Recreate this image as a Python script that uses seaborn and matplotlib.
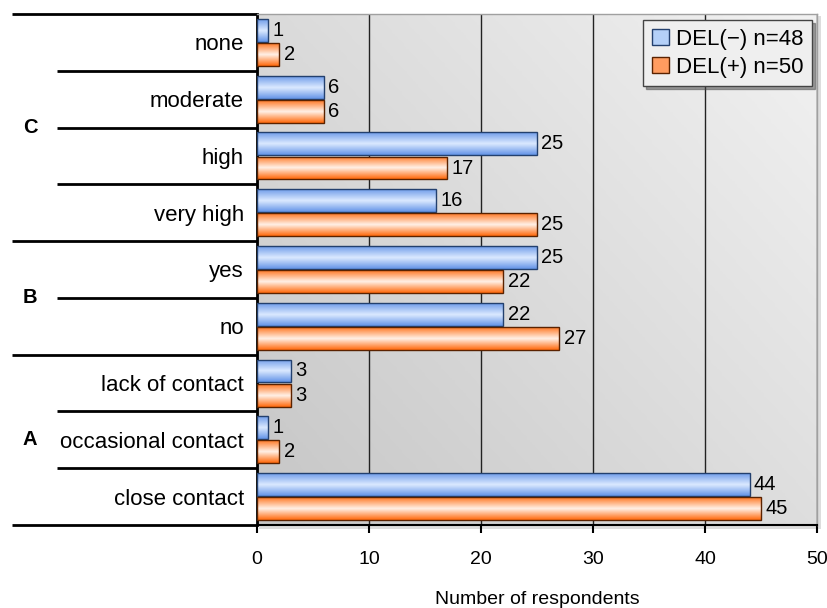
import numpy as np
import pandas as pd
import matplotlib
matplotlib.use("Agg")
import matplotlib.pyplot as plt
import seaborn as sns
from matplotlib.colors import LinearSegmentedColormap
from matplotlib.patches import Patch, Rectangle

# data (top to bottom)
categories = ["none", "moderate", "high", "very high", "yes", "no",
              "lack of contact", "occasional contact", "close contact"]
del_minus = [1, 6, 25, 16, 25, 22, 3, 1, 44]
del_plus = [2, 6, 17, 25, 22, 27, 3, 2, 45]
series_names = ["DEL(\u2212) n=48", "DEL(+) n=50"]
groups = ["C", "B", "A"]
group_sizes = [4, 2, 3]
x_ticks = [0, 10, 20, 30, 40, 50]

df = pd.DataFrame({
    "category": categories * 2,
    "value": del_minus + del_plus,
    "group": [series_names[0]] * len(categories) + [series_names[1]] * len(categories),
})

sns.set_theme(style="white")
plt.rcParams["font.family"] = ["Liberation Sans", "DejaVu Sans"]
plt.rcParams["text.color"] = "black"
plt.rcParams["axes.labelcolor"] = "black"
plt.rcParams["xtick.color"] = "black"
plt.rcParams["ytick.color"] = "black"

fig = plt.figure(figsize=(8.27, 6.08), dpi=100)
ax = fig.add_axes([257 / 827, 1 - 525 / 608, 560 / 827, 511 / 608])

sns.barplot(data=df, y="category", x="value", hue="group", order=categories,
            hue_order=series_names, orient="h", width=0.85, gap=0.05,
            palette=["#6f9fe8", "#ff6a10"], legend=False, ax=ax, zorder=3)

# background gradient (lighter towards top right)
gx, gy = np.meshgrid(np.linspace(0, 1, 200), np.linspace(0, 1, 200))
bg = 0.55 * gx + 0.45 * (1 - gy)
bg_cmap = LinearSegmentedColormap.from_list("bg", ["#c6c6c6", "#f2f2f2"])
ax.imshow(bg, cmap=bg_cmap, extent=(0, 1, 0, 1), transform=ax.transAxes,
          aspect="auto", zorder=-10, interpolation="bilinear")

# glossy bars
styles = [("#5d8fe6", "#dbe9ff", "#23406e"), ("#ff6200", "#fff0e6", "#5a2200")]
t = np.linspace(0, 1, 64)
prof = np.interp(t, [0, 0.5, 1], [0.15, 1.0, 0.05])[:, None]
for cont, (dark, light, edge) in zip(ax.containers, styles):
    cmap = LinearSegmentedColormap.from_list("b", [dark, light])
    for p in cont.patches:
        x0, y0, w, h = p.get_x(), p.get_y(), p.get_width(), p.get_height()
        im = ax.imshow(prof, cmap=cmap, vmin=0, vmax=1,
                       extent=(x0, x0 + w, y0 + h, y0), aspect="auto",
                       zorder=2.9, interpolation="bilinear")
        im.set_clip_path(p)
        p.set_facecolor("none")
        p.set_edgecolor(edge)
        p.set_linewidth(1.0)
    ax.bar_label(cont, padding=3, fontsize=14.5, color="black")

ax.set_xlim(0, 50)
ax.set_ylim(len(categories) - 0.5, -0.5)
ax.set_xticks(x_ticks)
ax.xaxis.grid(True, color="#222222", linewidth=1.0)
ax.set_axisbelow(True)
ax.tick_params(axis="x", direction="out", length=6, width=1.5, color="black",
               labelsize=14, pad=13, bottom=True)
ax.tick_params(axis="y", length=0, labelsize=16, pad=9.5)
ax.set_ylabel("")
ax.set_xlabel("Number of respondents", fontsize=14, labelpad=16)

for side in ["top", "right"]:
    ax.spines[side].set_color("#a0a0a0")
    ax.spines[side].set_linewidth(1.0)
ax.spines["left"].set_color("black")
ax.spines["left"].set_linewidth(2.0)
ax.spines["bottom"].set_color("black")
ax.spines["bottom"].set_linewidth(1.5)

# soft shadow of the plot area
fig.patches.append(Rectangle((259 / 827, 1 - 529 / 608), 562 / 827, 513 / 608,
                             transform=fig.transFigure, facecolor="#dddddd",
                             edgecolor="none", zorder=-20))

# row separators and group letters
trans = ax.get_yaxis_transform()
edges = np.cumsum([0] + group_sizes)
for i in range(len(categories) + 1):
    x_start = -0.4375 if i in edges else -0.357
    ax.plot([x_start, 0], [i - 0.5, i - 0.5], color="black", linewidth=2,
            transform=trans, clip_on=False, solid_capstyle="butt")
for g, a, b in zip(groups, edges[:-1], edges[1:]):
    ax.text(-0.405, (a + b - 1) / 2, g, transform=trans, ha="center",
            va="center", fontsize=14.5, fontweight="bold", color="black")

handles = [Patch(facecolor="#b4d0f8", edgecolor="#23406e"),
           Patch(facecolor="#ff9c60", edgecolor="#5a2200")]
leg = ax.legend(handles, series_names, loc="upper right",
                bbox_to_anchor=(812 / 827, 1 - 20 / 608),
                bbox_transform=fig.transFigure, borderaxespad=0,
                fontsize=16, frameon=True, fancybox=False, shadow=True,
                handlelength=0.75, handleheight=0.75, handletextpad=0.3,
                labelspacing=0.3, borderpad=0.4)
leg.get_frame().set_facecolor("#efefef")
leg.get_frame().set_edgecolor("#444444")
leg.get_frame().set_alpha(1)

fig.savefig("out.png", dpi=100)
